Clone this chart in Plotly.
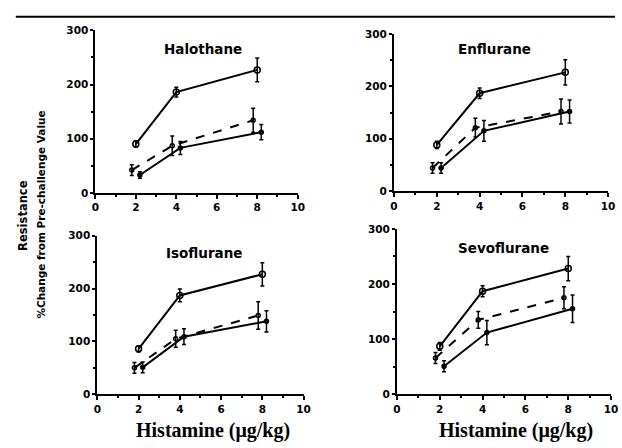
import plotly.graph_objects as go

panels = ["Halothane", "Enflurane", "Isoflurane", "Sevoflurane"]
x_top = [2.0, 4.0, 8.0]
x_dash = [1.8, 3.8, 7.8]
x_bot = [2.2, 4.2, 8.2]

top_vals = {"Halothane": [90, 186, 227], "Enflurane": [88, 187, 227],
            "Isoflurane": [86, 187, 227], "Sevoflurane": [87, 187, 228]}
top_err = {"Halothane": [6, 9, 22], "Enflurane": [7, 10, 24],
           "Isoflurane": [6, 12, 22], "Sevoflurane": [7, 10, 22]}
dash_vals = {"Halothane": [42, 87, 134], "Enflurane": [44, 121, 152],
             "Isoflurane": [50, 105, 149], "Sevoflurane": [66, 135, 175]}
dash_err = {"Halothane": [10, 18, 22], "Enflurane": [10, 18, 24],
            "Isoflurane": [10, 16, 26], "Sevoflurane": [10, 15, 20]}
bot_vals = {"Halothane": [33, 83, 112], "Enflurane": [44, 115, 152],
            "Isoflurane": [51, 109, 138], "Sevoflurane": [51, 112, 155]}
bot_err = {"Halothane": [6, 12, 14], "Enflurane": [10, 20, 22],
           "Isoflurane": [10, 15, 20], "Sevoflurane": [10, 22, 25]}

x_ticks = [0, 2, 4, 6, 8, 10]
y_ticks = [0, 100, 200, 300]
title_pos = {"Halothane": (5.3, 266), "Enflurane": (4.7, 272),
             "Isoflurane": (5.2, 268), "Sevoflurane": (5.0, 266)}

W, H = 622, 448


def px(x):
    return x / W


def py(y):
    return 1 - y / H


# panel plot areas in pixels: (left, right, top, bottom)
boxes = {
    "Halothane": (93, 299, 25, 192),
    "Enflurane": (397, 615, 29, 190),
    "Isoflurane": (95, 305, 236, 399),
    "Sevoflurane": (400, 618, 229, 399),
}

fig = go.Figure()
tickfont = dict(family="DejaVu Sans", size=10.5, color="black", weight="bold")

for i, name in enumerate(panels):
    n = "" if i == 0 else str(i + 1)
    xa, ya = "x" + n, "y" + n

    def add(xs, ys, es, dash, sym, size):
        fig.add_trace(go.Scatter(
            x=xs, y=ys, xaxis=xa, yaxis=ya, mode="lines+markers",
            line=dict(color="black", width=2, dash=dash),
            marker=dict(symbol=sym, size=size, color="black",
                        line=dict(color="black", width=1.5)),
            error_y=dict(type="data", array=es, color="black", thickness=1.5, width=2),
            showlegend=False, cliponaxis=False, hoverinfo="skip"))

    add(x_dash, dash_vals[name], dash_err[name], "dash", "circle-open", 4)
    add(x_bot, bot_vals[name], bot_err[name], "solid", "circle", 4)
    add(x_top, top_vals[name], top_err[name], "solid", "circle-open", 6)
    l, r, t, b = boxes[name]
    dx = [px(l), min(px(r), 1.0)]
    dy = [py(b), py(t)]
    fig.update_layout(**{
        "xaxis" + n: dict(domain=dx, range=[0, 10], tickvals=x_ticks, anchor=ya,
                          showgrid=False, zeroline=False, showline=True,
                          linecolor="black", linewidth=2, ticks="outside",
                          ticklen=4, tickwidth=2, tickcolor="black",
                          tickfont=tickfont,
                          minor=dict(ticks="outside", dtick=1, ticklen=2, tickcolor="black")),
        "yaxis" + n: dict(domain=dy, range=[0, 300], tickvals=y_ticks, anchor=xa,
                          showgrid=False, zeroline=False, showline=True,
                          linecolor="black", linewidth=2, ticks="outside",
                          ticklen=3, tickwidth=2, tickcolor="black",
                          tickfont=tickfont,
                          minor=dict(ticks="outside", dtick=50, ticklen=2, tickcolor="black")),
    })
    tx, ty = title_pos[name]
    fig.add_annotation(x=tx, y=ty, xref=xa, yref=ya, text="<b>%s</b>" % name,
                       xanchor="center", yanchor="middle",
                       showarrow=False, font=dict(family="DejaVu Sans", size=13.5, color="black"))

labfont = dict(family="Liberation Serif", size=20, color="black")
for cx in (213, 521):
    fig.add_annotation(x=px(cx), y=py(436), xref="paper", yref="paper",
                       xanchor="center", yanchor="middle",
                       text="<b>Histamine (μg/kg)</b>", showarrow=False, font=labfont)
fig.add_annotation(x=px(20), y=py(215), xref="paper", yref="paper",
                   xanchor="center", yanchor="middle",
                   text="<b>Resistance</b>", textangle=-90, showarrow=False,
                   font=dict(family="DejaVu Sans", size=11.5, color="black"))
fig.add_annotation(x=px(38), y=py(214), xref="paper", yref="paper",
                   xanchor="center", yanchor="middle",
                   text="<b>%Change from Pre-challenge Value</b>", textangle=-90, showarrow=False,
                   font=dict(family="DejaVu Sans", size=10.5, color="black"))
fig.add_shape(type="line", xref="paper", yref="paper", x0=px(12), x1=1,
              y0=py(11), y1=py(11), line=dict(color="black", width=2))

fig.update_layout(width=W, height=H, margin=dict(l=0, r=0, t=0, b=0),
                  paper_bgcolor="white", plot_bgcolor="white", hovermode=False)
fig.write_html("out.html", config={"displayModeBar": False},
               post_script="document.body.style.margin='0';document.body.style.overflow='hidden';")
